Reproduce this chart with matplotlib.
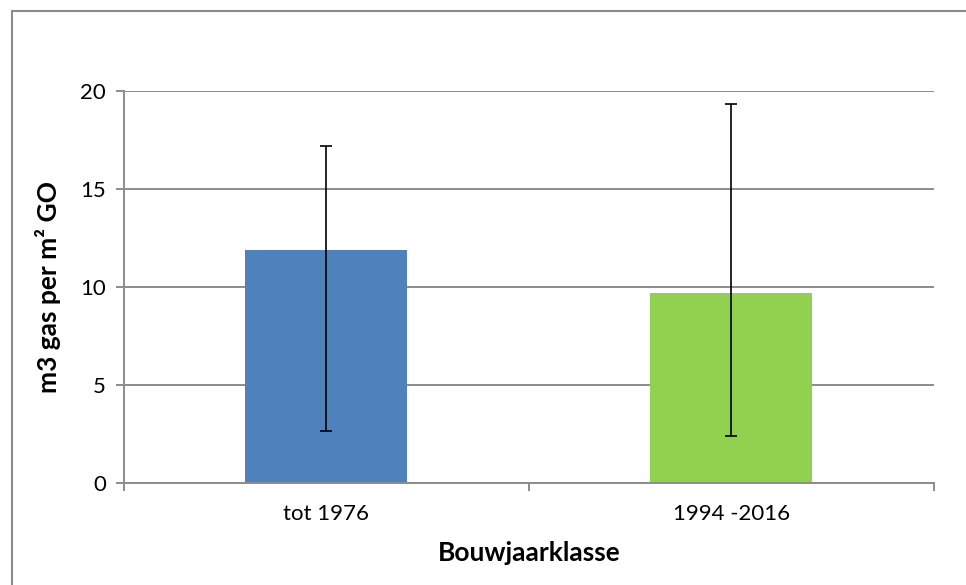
import numpy as np
import matplotlib.pyplot as plt
from matplotlib.lines import Line2D

categories = ['tot 1976', '1994 -2016']
means = [11.9, 9.7]
err_low = [2.65, 2.4]
err_high = [17.2, 19.35]
bar_colors = ['#4F81BD', '#92D050']

plt.rcParams['font.family'] = ['Lato', 'DejaVu Sans']

fig = plt.figure(figsize=(9.66, 5.85), dpi=100)
ax = fig.add_axes([124/966, 1 - 483.3/585, (933.5 - 124)/966, (483.3 - 91.3)/585])

x = np.arange(len(categories))
yerr = [np.array(means) - np.array(err_low), np.array(err_high) - np.array(means)]
ax.bar(x, means, width=0.4, color=bar_colors, zorder=2)
ax.errorbar(x, means, yerr=yerr, fmt='none', ecolor='black', elinewidth=1.2,
            capsize=4.5, capthick=1.2, zorder=3)

ax.set_xlim(-0.5, 1.5)
ax.set_ylim(0, 20)
ax.set_yticks([0, 5, 10, 15, 20])
ax.yaxis.grid(True, color='#8c8c8c', linewidth=1.4, zorder=0)
ax.set_axisbelow(True)

ax.set_xticks(x)
ax.set_xticklabels(categories, fontsize=16)
ax.set_xticks([-0.5, 0.5, 1.5], minor=True)
ax.tick_params(axis='x', which='major', length=0, pad=15)
ax.tick_params(axis='x', which='minor', length=6, width=1.4, color='#8c8c8c', direction='out')
ax.tick_params(axis='y', length=6, width=1.4, color='#8c8c8c', labelsize=16, pad=7)

for side in ['top', 'right']:
    ax.spines[side].set_visible(False)
for side in ['left', 'bottom']:
    ax.spines[side].set_color('#8c8c8c')
    ax.spines[side].set_linewidth(1.4)

ax.set_xlabel('Bouwjaarklasse', fontsize=19, fontweight='bold', labelpad=12)
ax.set_ylabel('m3 gas per m² GO', fontsize=19, fontweight='bold', labelpad=14)

# outer chart border (left and top only visible)
fig.add_artist(Line2D([12/966, 12/966], [0, 1 - 11/585], color='#8c8c8c', linewidth=1.5))
fig.add_artist(Line2D([12/966, 1], [1 - 11/585, 1 - 11/585], color='#8c8c8c', linewidth=1.5))

fig.savefig('out.png', dpi=100)
